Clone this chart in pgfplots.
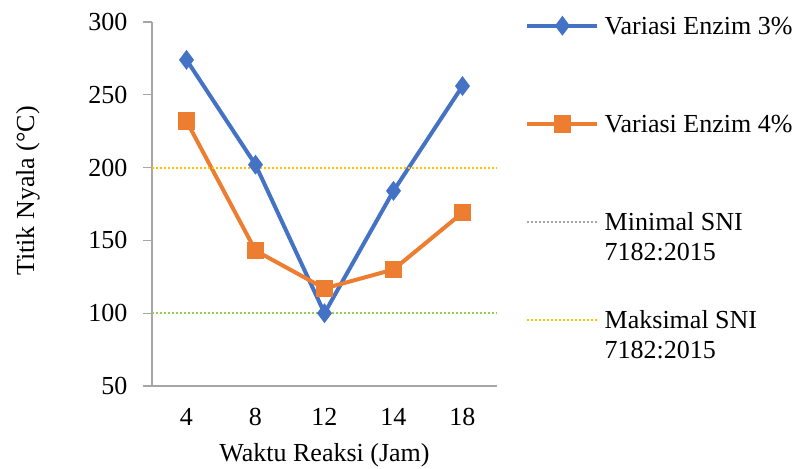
\documentclass[border=0pt]{standalone}
\usepackage{pgfplots}
\pgfplotsset{compat=1.18}
\usepackage{fontspec}
\setmainfont{Liberation Serif}
\definecolor{cblue}{HTML}{4472C4}
\definecolor{corange}{HTML}{ED7D31}
\definecolor{cgrey}{HTML}{A5A5A5}
\definecolor{cyellow}{HTML}{FFC000}
\definecolor{cgreen}{HTML}{92D050}
\definecolor{caxis}{HTML}{A6A6A6}
\newcommand{\twoline}[2]{\vtop{\hbox{\strut #1}\hbox{\strut #2}}}
\begin{document}
\fontsize{19.5}{22.5}\selectfont
\begin{tikzpicture}
\begin{axis}[
  name=ax,
  scale only axis, width=258.75pt, height=273pt,
  xmin=-0.5, xmax=4.5, ymin=50, ymax=300,
  ytick={50,100,...,300},
  xtick={0,1,2,3,4}, xticklabels={4,8,12,14,18},
  axis x line=bottom, axis y line=left,
  axis line style={-, draw=caxis, line width=1pt},
  tick align=outside,
  major tick length=6.75pt,
  xtick style={draw=none},
  ytick style={draw=caxis, line width=1pt},
  ticklabel style={font=\fontsize{19.5}{22.5}\selectfont},
  /pgf/number format/assume math mode=true,
  yticklabel style={anchor=east, inner sep=0pt, xshift=-11.5pt},
  xticklabel style={anchor=north, inner sep=0pt, yshift=-9.5pt},
  xlabel={Waktu Reaksi (Jam)},
  ylabel={Titik Nyala (°C)},
  xlabel style={at={(axis description cs:0.5,-0.19)}, anchor=center, font=\fontsize{19.5}{22.5}\selectfont},
  ylabel style={at={(axis description cs:-0.36,0.536)}, anchor=center, rotate=0, font=\fontsize{19.5}{22.5}\selectfont},
  legend cell align=left,
  legend style={at={(axis description cs:1.07,1.032)}, anchor=north west, draw=none, fill=none,
    font=\fontsize{19.5}{22.5}\selectfont, row sep=55pt,
    nodes={inner xsep=4pt, inner ysep=0pt},
    /tikz/every even column/.append style={column sep=0pt}},
  legend image code/.code={\draw[mark repeat=2,mark phase=2,#1] plot coordinates {(0pt,0pt) (26.25pt,0pt) (52.5pt,0pt)};},
  clip=false,
]
\addplot[cblue, line width=3pt, mark=diamond*, mark size=5pt, mark options={solid}]
  coordinates {(0,274) (1,202) (2,100) (3,184) (4,256)};
\addlegendentry{\twoline{Variasi Enzim 3\%}{}}
\addplot[corange, line width=3pt, mark=square*, mark size=5pt, mark options={solid}]
  coordinates {(0,232) (1,143) (2,117) (3,130) (4,169)};
\addlegendentry{\twoline{Variasi Enzim 4\%}{}}
\addplot[cgrey, line width=1.5pt, dash pattern=on 1.5pt off 1.5pt]
  coordinates {(-0.5,100) (4.5,100)};
\addlegendentry{\twoline{Minimal SNI}{7182:2015}}
\addplot[cyellow, line width=1.5pt, dash pattern=on 1.5pt off 1.5pt]
  coordinates {(-0.5,200) (4.5,200)};
\addlegendentry{\twoline{Maksimal SNI}{7182:2015}}
\addplot[cgreen, line width=1.5pt, dash pattern=on 1.5pt off 1.5pt, forget plot]
  coordinates {(-0.5,100) (4.5,100)};
\end{axis}
\pgfresetboundingbox
\path[use as bounding box] (ax.south west) ++(-114pt,-61.5pt) rectangle ++(599.25pt,351pt);
\end{tikzpicture}
\end{document}
